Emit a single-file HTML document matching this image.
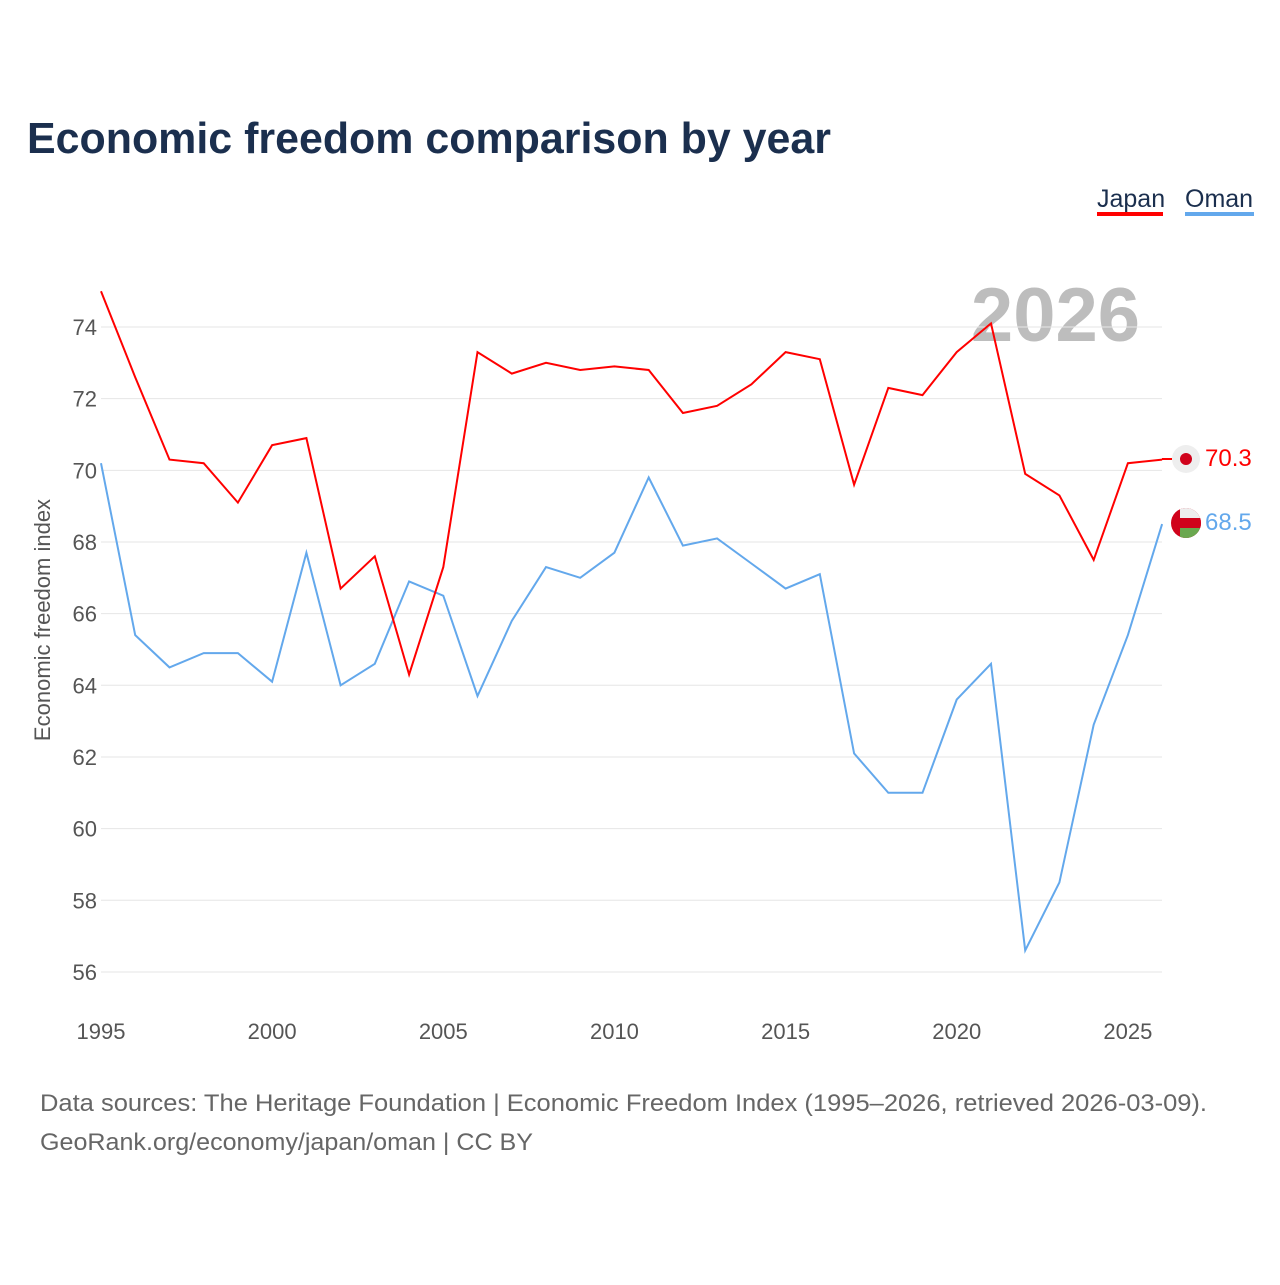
<!DOCTYPE html>
<html><head><meta charset="utf-8"><style>
body{margin:0;background:#fff;font-family:"Liberation Sans",sans-serif}
#wrap{position:relative;width:1280px;height:1280px}
</style></head><body>
<div id="wrap">
<svg id="chart" width="1280" height="1280">
<text x="27" y="153" font-size="44" font-weight="bold" fill="#1b2f4e" textLength="804" lengthAdjust="spacingAndGlyphs">Economic freedom comparison by year</text>
<g><text x="1097" y="207" font-size="25" fill="#1b2f4e">Japan</text><rect x="1097" y="212" width="66" height="4" fill="#f00"/></g>
<g><text x="1185" y="207" font-size="25" fill="#1b2f4e">Oman</text><rect x="1185" y="212" width="69" height="4" fill="#63a8ec"/></g>
<text x="1140" y="341" font-size="76" font-weight="bold" fill="#bdbdbd" text-anchor="end">2026</text>
<g id="grid"></g><g id="axes"></g><g id="lines"></g>
<text transform="translate(50,620) rotate(-90)" font-size="22" fill="#555" text-anchor="middle">Economic freedom index</text>
<line x1="1162" y1="459" x2="1172" y2="459" stroke="#f00" stroke-width="2"/>
<g><circle cx="1186" cy="459" r="14" fill="#eee"/><circle cx="1186" cy="459" r="6" fill="#d0021b"/></g>
<g>
<clipPath id="oc"><circle cx="1186" cy="523" r="15"/></clipPath>
<g clip-path="url(#oc)"><rect x="1171" y="508" width="30" height="30" fill="#d0021b"/><rect x="1180" y="508" width="21" height="10" fill="#eee"/><rect x="1180" y="528" width="21" height="10" fill="#6aa84f"/><rect x="1180" y="518" width="21" height="10" fill="#d0021b"/></g></g>
<text x="1205" y="466" font-size="24" fill="#f00">70.3</text>
<text x="1205" y="530" font-size="24" fill="#63a8ec">68.5</text>
<text x="40" y="1111" font-size="24" fill="#666" textLength="1167" lengthAdjust="spacingAndGlyphs">Data sources: The Heritage Foundation | Economic Freedom Index (1995–2026, retrieved 2026-03-09).</text>
<text x="40" y="1150" font-size="24" fill="#666" textLength="493" lengthAdjust="spacingAndGlyphs">GeoRank.org/economy/japan/oman | CC BY</text>
</svg></div>
<script>
const years=[1995,1996,1997,1998,1999,2000,2001,2002,2003,2004,2005,2006,2007,2008,2009,2010,2011,2012,2013,2014,2015,2016,2017,2018,2019,2020,2021,2022,2023,2024,2025,2026];
const japan=[75.0,72.6,70.3,70.2,69.1,70.7,70.9,66.7,67.6,64.3,67.3,73.3,72.7,73.0,72.8,72.9,72.8,71.6,71.8,72.4,73.3,73.1,69.6,72.3,72.1,73.3,74.1,69.9,69.3,67.5,70.2,70.3];
const oman=[70.2,65.4,64.5,64.9,64.9,64.1,67.7,64.0,64.6,66.9,66.5,63.7,65.8,67.3,67.0,67.7,69.8,67.9,68.1,67.4,66.7,67.1,62.1,61.0,61.0,63.6,64.6,56.6,58.5,62.9,65.4,68.5];
const yTicks=[56,58,60,62,64,66,68,70,72,74];
const xTicks=[1995,2000,2005,2010,2015,2020,2025];
const NS='http://www.w3.org/2000/svg';
const X=y=>101+(y-1995)*34.23;
const Y=v=>327+(74-v)*35.83;
const grid=document.getElementById('grid'),axes=document.getElementById('axes'),lines=document.getElementById('lines');
function mk(tag,attrs,parent){const e=document.createElementNS(NS,tag);for(const k in attrs)e.setAttribute(k,attrs[k]);parent.appendChild(e);return e;}
yTicks.forEach(t=>{
 const l=mk('line',{x1:101,x2:1162,y1:Y(t),y2:Y(t),stroke:'#e6e6e6','stroke-width':1},grid);
 
 
 const tx=mk('text',{x:97,y:Y(t)+8,'font-size':22,fill:'#555','text-anchor':'end'},axes);
 tx.textContent=t;
 
 
});
xTicks.forEach(t=>{
 const tx=mk('text',{x:X(t),y:1039,'font-size':22,fill:'#555','text-anchor':'middle'},axes);
 tx.textContent=t;
 
 
});
function line(vals,color,name){
 const d=vals.map((v,i)=>(i?'L':'M')+X(years[i]).toFixed(1)+','+Y(v).toFixed(1)).join('');
 const p=mk('path',{d:d,fill:'none',stroke:color,'stroke-width':2},lines);
 
 
}
line(oman,'#63a8ec','oman-line');
line(japan,'#f00','japan-line');
</script>
</body></html>
